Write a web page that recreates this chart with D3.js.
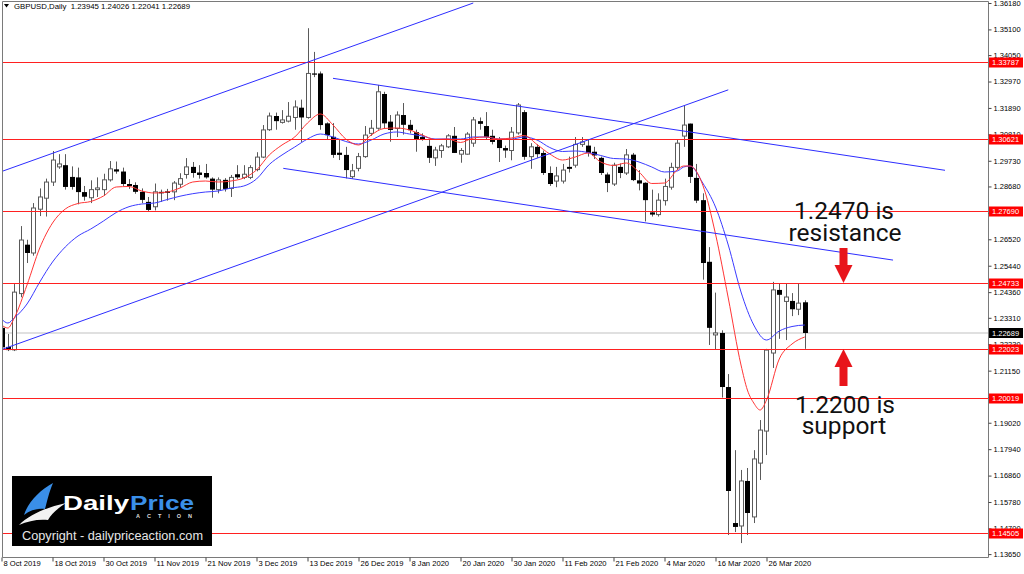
<!DOCTYPE html>
<html><head><meta charset="utf-8">
<script src="https://cdn.jsdelivr.net/npm/d3@7"></script>
<style>body{margin:0;background:#fff;}svg{display:block;}</style>
</head><body>
<svg id="c" width="1024" height="574"></svg>
<script>
// ---------- DATA ----------
const symbolTitle = "GBPUSD,Daily  1.23945 1.24026 1.22041 1.22689";
const dateLabels = ["8 Oct 2019","18 Oct 2019","30 Oct 2019","11 Nov 2019","21 Nov 2019","3 Dec 2019","13 Dec 2019","26 Dec 2019","8 Jan 2020","20 Jan 2020","30 Jan 2020","11 Feb 2020","21 Feb 2020","4 Mar 2020","16 Mar 2020","26 Mar 2020"];
const dateLabelBars = [0,8,16,24,32,40,48,56,64,72,80,88,96,104,112,120];
const priceTicks = [1.36180,1.35100,1.34050,1.32970,1.31890,1.30810,1.29730,1.28680,1.27600,1.26520,1.25440,1.24360,1.23310,1.22230,1.21150,1.20070,1.19020,1.17940,1.16860,1.15780,1.14700,1.13650];
const priceMin = 1.13650, priceMax = 1.36180;

const open = [1.2290,1.2212,1.2200,1.2430,1.2630,1.2596,1.2775,1.2820,1.2886,1.2948,
1.2955,1.2907,1.2905,1.2845,1.2822,1.2855,1.2855,1.2895,1.2938,1.2929,
1.2878,1.2874,1.2846,1.2805,1.2785,1.2846,1.2848,1.2846,1.2877,1.2917,
1.2948,1.2925,1.2923,1.2900,1.2855,1.2895,1.2860,1.2918,1.2905,1.2905,
1.2937,1.2988,1.3100,1.3156,1.3130,1.3135,1.3150,1.3190,1.3150,1.3330,
1.3330,1.3126,1.3071,1.3006,1.2997,1.2908,1.2942,1.2990,1.3085,1.3106,
1.3246,1.3133,1.3105,1.3160,1.3120,1.3090,1.3070,1.3034,1.2985,1.3015,
1.3030,1.3075,1.3000,1.3000,1.3045,1.3135,1.3115,1.3075,1.3058,1.3025,
1.3015,1.3087,1.3172,1.2990,1.3030,1.3005,1.2923,1.2890,1.2890,1.2948,
1.2955,1.3040,1.3035,1.3010,1.2985,1.2917,1.2878,1.2948,1.2923,1.2998,
1.2893,1.2883,1.2762,1.2753,1.2810,1.2865,1.2946,1.3074,1.3125,1.2903,
1.2812,1.2560,1.2261,1.2269,1.2048,1.1492,1.1480,1.1664,1.1517,1.1737,
1.1868,1.2187,1.2445,1.2398,1.2400,1.2366,1.23945];
const high = [1.2300,1.2265,1.2469,1.2706,1.2650,1.2800,1.2860,1.2900,1.3013,1.3000,
1.3000,1.2950,1.2945,1.2870,1.2893,1.2905,1.2920,1.2972,1.2970,1.2945,
1.2898,1.2885,1.2860,1.2825,1.2880,1.2855,1.2858,1.2890,1.2922,1.2984,
1.2968,1.2955,1.2960,1.2905,1.2905,1.2902,1.2915,1.2955,1.2955,1.2955,
1.3008,1.3119,1.3170,1.3170,1.3180,1.3213,1.3220,1.3223,1.3515,1.3418,
1.3338,1.3130,1.3127,1.3058,1.3030,1.2960,1.3005,1.3115,1.3140,1.3283,
1.3255,1.3160,1.3175,1.3209,1.3140,1.3100,1.3085,1.3058,1.3030,1.3042,
1.3082,1.3111,1.3025,1.3090,1.3152,1.3150,1.3172,1.3100,1.3070,1.3035,
1.3111,1.3209,1.3180,1.3045,1.3040,1.3015,1.2950,1.2948,1.2960,1.2990,
1.3070,1.3070,1.3060,1.3030,1.2990,1.2925,1.2965,1.2962,1.3021,1.3005,
1.2935,1.2885,1.2855,1.2840,1.2900,1.2965,1.3060,1.3200,1.3125,1.2960,
1.2840,1.2620,1.2434,1.2280,1.2101,1.1790,1.1709,1.1717,1.1790,1.1913,
1.2204,1.2478,1.2470,1.2473,1.2432,1.2473,1.24026];
const low = [1.2200,1.2195,1.2195,1.2415,1.2555,1.2585,1.2747,1.2745,1.2870,1.2940,
1.2855,1.2855,1.2795,1.2810,1.2800,1.2825,1.2830,1.2888,1.2920,1.2870,
1.2858,1.2838,1.2800,1.2766,1.2770,1.2805,1.2810,1.2812,1.2862,1.2900,
1.2904,1.2900,1.2900,1.2822,1.2840,1.2847,1.2825,1.2898,1.2898,1.2898,
1.2930,1.2984,1.3095,1.3100,1.3125,1.3130,1.3100,1.3050,1.3145,1.3315,
1.3100,1.3060,1.2985,1.2976,1.2901,1.2900,1.2930,1.2985,1.3075,1.3100,
1.3105,1.3051,1.3070,1.3080,1.3085,1.3010,1.3055,1.2964,1.2952,1.2985,
1.3025,1.3005,1.2965,1.2998,1.3030,1.3100,1.3060,1.3040,1.2968,1.2985,
1.2975,1.3080,1.2977,1.2940,1.2985,1.2915,1.2870,1.2865,1.2880,1.2925,
1.2945,1.3030,1.2990,1.2980,1.2915,1.2845,1.2870,1.2902,1.2915,1.2890,
1.2852,1.2725,1.2745,1.2745,1.2790,1.2855,1.2935,1.3030,1.2882,1.2800,
1.2487,1.2220,1.2200,1.2005,1.1443,1.1455,1.1410,1.1443,1.1492,1.1668,
1.1770,1.2126,1.2245,1.2240,1.2338,1.2342,1.22041];
const close = [1.2210,1.2199,1.2436,1.2649,1.2596,1.2780,1.2825,1.2886,1.2976,1.2960,
1.2866,1.2866,1.2845,1.2826,1.2855,1.2862,1.2895,1.2940,1.2929,1.2878,
1.2870,1.2846,1.2813,1.2772,1.2846,1.2840,1.2842,1.2882,1.2900,1.2948,
1.2923,1.2915,1.2905,1.2855,1.2895,1.2858,1.2905,1.2905,1.2918,1.2945,
1.2988,1.3099,1.3156,1.3135,1.3140,1.3155,1.3193,1.3150,1.3330,1.3325,
1.3119,1.3078,1.2997,1.2997,1.2935,1.2932,1.2990,1.3078,1.3106,1.3255,
1.3126,1.3099,1.3160,1.3120,1.3098,1.3062,1.3062,1.2985,1.3017,1.3034,
1.3075,1.3005,1.3015,1.3082,1.3140,1.3124,1.3070,1.3050,1.3025,1.3015,
1.3090,1.3201,1.2989,1.3030,1.3000,1.2923,1.2878,1.2911,1.2935,1.2940,
1.3040,1.3050,1.3005,1.2995,1.2923,1.2882,1.2955,1.2923,1.2997,1.2894,
1.2880,1.2812,1.2753,1.2812,1.2868,1.2946,1.3045,1.3119,1.2907,1.2810,
1.2555,1.2290,1.2269,1.2048,1.1623,1.1476,1.1664,1.1533,1.1754,1.1872,
1.2199,1.2445,1.2425,1.2416,1.2366,1.2391,1.22689];

// moving averages: [bar, price]
const maFast = [[0,1.23016],[1,1.22893],[2,1.23302],[4,1.24651],[6,1.26164],[8,1.27186],[10,1.27758],[12,1.27983],[14,1.28065],[16,1.28290],[18,1.28658],[20,1.28678],[22,1.28494],[24,1.28412],[26,1.28453],[28,1.28617],[30,1.28862],[32,1.28903],[34,1.28862],[36,1.28903],[38,1.29025],[40,1.29353],[42,1.29966],[44,1.30375],[46,1.30702],[48,1.31274],[50,1.31642],[52,1.31192],[54,1.30620],[56,1.30375],[58,1.30783],[60,1.31049],[62,1.31070],[64,1.30988],[66,1.30783],[68,1.30599],[70,1.30620],[72,1.30477],[74,1.30661],[76,1.30702],[78,1.30620],[80,1.30661],[82,1.30763],[84,1.30395],[86,1.30007],[88,1.29761],[90,1.29884],[92,1.30048],[94,1.29680],[96,1.29537],[98,1.29639],[100,1.29271],[102,1.28801],[104,1.28821],[106,1.29353],[107,1.29516],[108,1.29516],[110,1.28739],[112,1.26736],[114,1.24120],[116,1.21380],[117,1.20358],[118,1.19827],[119,1.19541],[120,1.19949],[122,1.21626],[124,1.22239],[126,1.22525]];
const maSlow = [[0,1.23261],[1,1.23097],[2,1.23302],[4,1.23874],[6,1.24774],[8,1.25591],[10,1.26205],[12,1.26654],[14,1.26940],[16,1.27268],[18,1.27615],[20,1.27852],[22,1.27963],[24,1.28003],[26,1.28146],[28,1.28281],[30,1.28384],[32,1.28453],[34,1.28494],[36,1.28617],[38,1.28698],[40,1.28985],[42,1.29577],[44,1.29966],[46,1.30293],[48,1.30620],[50,1.30824],[52,1.30702],[54,1.30518],[56,1.30415],[58,1.30579],[60,1.30824],[62,1.30906],[64,1.30824],[66,1.30743],[68,1.30620],[70,1.30620],[72,1.30620],[74,1.30702],[76,1.30702],[78,1.30620],[80,1.30620],[82,1.30702],[84,1.30579],[86,1.30272],[88,1.30109],[90,1.30130],[92,1.30068],[94,1.29945],[96,1.29823],[98,1.29802],[100,1.29680],[102,1.29475],[104,1.29271],[106,1.29312],[107,1.29475],[108,1.29516],[110,1.28821],[112,1.27840],[114,1.26286],[116,1.24365],[118,1.23016],[120,1.22402],[122,1.22770],[124,1.22954],[126,1.23016]];

const levels = [1.33787,1.30621,1.27690,1.24733,1.22023,1.20019,1.14505];
const lastPrice = 1.22689;
// trend lines: [bar1, price1, bar2, price2]
const trendLines = [[0,1.2929,74,1.3618],[0,1.2201,114,1.3263],[52,1.3310,148,1.2934],[44.2,1.2942,139.85,1.2567]];
const notes = [["1.2470 is","resistance"],["1.2200 is","support"]];

// ---------- DRAW ----------
const svg = d3.select("#c");
const font = "'Liberation Sans', Arial, sans-serif";
const P = {l:2, r:988, t:1, b:557};
const x = d3.scaleLinear().domain([0,126]).range([1.5,804.75]);
const y = d3.scaleLinear().domain([priceMin,priceMax]).range([554.1,3]);

svg.append("rect").attr("width",1024).attr("height",574).attr("fill","#fff");
svg.append("defs").append("clipPath").attr("id","clip")
  .append("rect").attr("x",P.l).attr("y",P.t).attr("width",P.r-P.l).attr("height",P.b-P.t);
const g = svg.append("g").attr("clip-path","url(#clip)");

// last price line
g.append("line").attr("class","last").attr("x1",P.l).attr("x2",P.r).attr("y1",y(lastPrice)).attr("y2",y(lastPrice))
  .attr("stroke","#d6d6d6").attr("stroke-width",1.5);

// candles
const bars = d3.range(open.length).map(i=>({i,o:open[i],h:high[i],l:low[i],c:close[i]}));
const cg = g.append("g");
bars.forEach(d=>{
  const cx = Math.round(x(d.i))+0.5;
  cg.append("line").attr("x1",cx).attr("x2",cx).attr("y1",y(d.h)).attr("y2",y(d.l))
    .attr("stroke","#5a5a5a").attr("stroke-width",1);
  const top = y(Math.max(d.o,d.c)), bot = y(Math.min(d.o,d.c));
  const hgt = Math.max(1,bot-top);
  if(d.c>=d.o){
    cg.append("rect").attr("x",cx-2).attr("y",top).attr("width",4).attr("height",hgt)
      .attr("fill","#fff").attr("stroke","#5a5a5a").attr("stroke-width",1);
  } else {
    cg.append("rect").attr("x",cx-2.5).attr("y",top).attr("width",5).attr("height",hgt)
      .attr("fill","#000");
  }
});

// moving averages
const ln = d3.line().x(d=>x(d[0])).y(d=>y(d[1])).curve(d3.curveMonotoneX);
g.append("path").attr("d",ln(maSlow)).attr("fill","none").attr("stroke","#3b3bff").attr("stroke-width",1);
g.append("path").attr("d",ln(maFast)).attr("fill","none").attr("stroke","#ff3535").attr("stroke-width",1);

// horizontal levels
g.selectAll("line.lvl").data(levels).enter().append("line").attr("class","lvl")
  .attr("x1",P.l).attr("x2",P.r).attr("y1",d=>Math.round(y(d))+0.5).attr("y2",d=>Math.round(y(d))+0.5)
  .attr("stroke","#ff2020").attr("stroke-width",1.2);

// trend lines
g.selectAll("line.tl").data(trendLines).enter().append("line").attr("class","tl")
  .attr("x1",d=>x(d[0])).attr("y1",d=>y(d[1])).attr("x2",d=>x(d[2])).attr("y2",d=>y(d[3]))
  .attr("stroke","#2d2dff").attr("stroke-width",1);

// frame
svg.append("path").attr("d",`M${P.l+0.5},${P.b+0.5}V${P.t+0.5}H${P.r+0.5}V${P.b+0.5}H${P.l+0.5}`)
  .attr("fill","none").attr("stroke","#7a7a7a").attr("stroke-width",1);

// header
svg.append("path").attr("d","M4,4 L9,4 L6.5,7.5 Z").attr("fill","#000");
svg.append("text").attr("x",14).attr("y",9).attr("font-family",font).attr("font-size",7.8)
  .attr("fill","#000").attr("xml:space","preserve").text(symbolTitle);

// right axis
const ay = svg.append("g").attr("transform",`translate(${P.r+0.5},0)`)
  .call(d3.axisRight(y).tickValues(priceTicks).tickFormat(d3.format(".5f")).tickSize(3).tickPadding(2).tickSizeOuter(0));
ay.select(".domain").remove();
ay.selectAll("line").attr("stroke","#444");
ay.selectAll("text").attr("font-family",font).attr("font-size",7.5).attr("fill","#000");

// level labels
const lg = svg.append("g");
levels.forEach(v=>{
  lg.append("rect").attr("x",989).attr("y",Math.round(y(v))-4.5).attr("width",34).attr("height",10).attr("fill","#ff0000");
  lg.append("text").attr("x",992).attr("y",Math.round(y(v))+0.5).attr("dy","0.35em").attr("font-family",font)
    .attr("font-size",7.5).attr("fill","#fff").text(d3.format(".5f")(v));
});
lg.append("rect").attr("x",989).attr("y",y(lastPrice)-5).attr("width",34).attr("height",10).attr("fill","#000");
lg.append("text").attr("x",992).attr("y",y(lastPrice)).attr("dy","0.35em").attr("font-family",font)
  .attr("font-size",7.5).attr("fill","#fff").text(d3.format(".5f")(lastPrice));

// bottom axis
const ax = svg.append("g").attr("transform",`translate(0,${P.b+0.5})`)
  .call(d3.axisBottom(x).tickValues(dateLabelBars).tickFormat((d,i)=>dateLabels[i]).tickSize(4).tickSizeOuter(0));
ax.select(".domain").remove();
ax.selectAll("line").attr("stroke","#444");
ax.selectAll("text").attr("font-family",font).attr("font-size",7.6).attr("fill","#000")
  .attr("text-anchor","start").attr("x",1.5).attr("y",3).attr("dy","0.71em");

// annotations
const ag = svg.append("g").attr("font-family","Roboto, 'Liberation Sans', sans-serif").attr("font-size",24.5)
  .attr("fill","#111").attr("text-anchor","middle");
ag.append("text").attr("x",844).attr("y",219).text(notes[0][0]);
ag.append("text").attr("x",845).attr("y",241).text(notes[0][1]);
ag.append("text").attr("x",845).attr("y",413).text(notes[1][0]);
ag.append("text").attr("x",844).attr("y",434).text(notes[1][1]);
const red = "#e8151b";
svg.append("path").attr("d","M839.5,248 H847.5 V265 H852.5 L843.5,283 L834.5,265 H839.5 Z").attr("fill",red);
svg.append("path").attr("d","M843.5,349 L852.5,367 H847.5 V386 H839.5 V367 H834.5 Z").attr("fill",red);

// logo
const lo = svg.append("g");
lo.append("rect").attr("x",12).attr("y",476).attr("width",200).attr("height",70).attr("fill","#000");
lo.append("path").attr("d","M24,515 C28,502 40,490 53,483 C49,492 47,502 45,509 C38,508 30,510 24,515 Z").attr("fill","#3a8fe8");
lo.append("path").attr("d","M19,525 C30,514 48,507 66,503 C57,509 51,514 48,520 C38,519 28,521 19,525 Z").attr("fill","#f2f2f2");
lo.append("text").attr("x",63).attr("y",510).attr("font-family",font).attr("font-weight","bold")
  .attr("font-size",21).attr("fill","#fff").attr("textLength",66).attr("lengthAdjust","spacingAndGlyphs").text("Daily");
lo.append("text").attr("x",130).attr("y",510).attr("font-family",font).attr("font-weight","bold")
  .attr("font-size",21).attr("fill","#3a8fe8").attr("textLength",64).attr("lengthAdjust","spacingAndGlyphs").text("Price");
lo.append("text").attr("x",136).attr("y",518).attr("font-family",font).attr("font-weight","bold")
  .attr("font-size",5.5).attr("fill","#ddd").attr("textLength",56).attr("lengthAdjust","spacing").text("ACTION");
lo.append("text").attr("x",22).attr("y",540).attr("font-family",font)
  .attr("font-size",12).attr("fill","#e6e6e6").attr("textLength",181).attr("lengthAdjust","spacingAndGlyphs").text("Copyright - dailypriceaction.com");
</script>
</body></html>
